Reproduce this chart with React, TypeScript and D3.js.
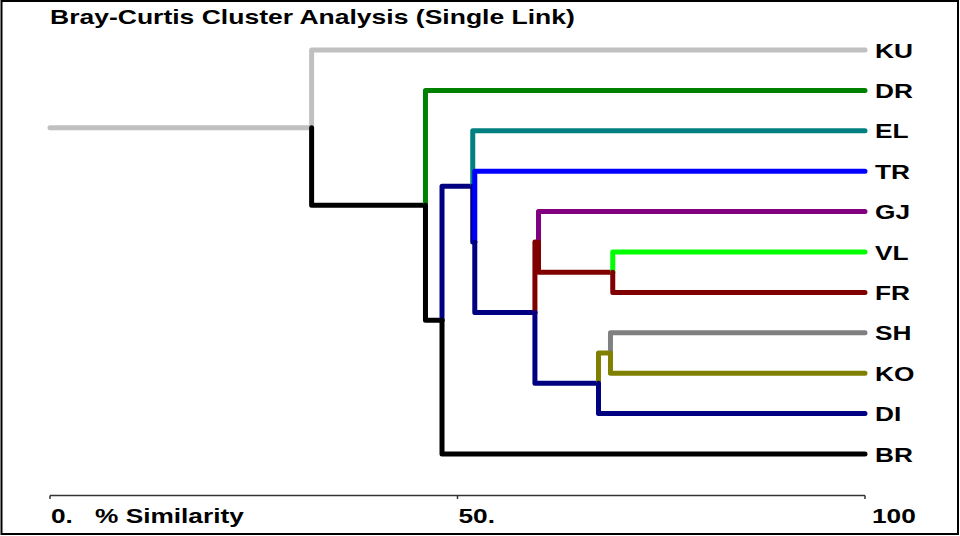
import React from "react";
import * as d3 from "d3";

// ---- data ----
const leafNames = ["KU", "DR", "EL", "TR", "GJ", "VL", "FR", "SH", "KO", "DI", "BR"];
const leafColors = [
  "#c0c0c0", "#008000", "#008080", "#0000ff", "#800080",
  "#00ff00", "#800000", "#808080", "#808000", "#000080", "#000000",
];
// merges: top child, bottom child, % similarity at which they join
const mergeIds = ["m0", "m1", "m2", "m3", "m4", "m5", "m6", "m7", "m8", "m9"];
const mergeTop = ["VL", "SH", "m1", "GJ", "m3", "TR", "EL", "m6", "DR", "KU"];
const mergeBottom = ["FR", "KO", "DI", "m0", "m2", "m4", "m5", "BR", "m7", "m8"];
const mergeSimilarity = [69.05, 68.77, 67.3, 59.94, 59.5, 52.12, 51.87, 48.1, 46.07, 32.1];
const rootColor = "#c0c0c0";
const axisTicks = [0, 50, 100];
const axisTickLabels = ["0.", "50.", "100"];
const axisTitle = "% Similarity";
const chartTitle = "Bray-Curtis Cluster Analysis (Single Link)";

type TNode = { name: string; sim: number; color: string; children?: TNode[] };

function buildTree(): TNode {
  const map = new Map<string, TNode>();
  leafNames.forEach((n, i) => map.set(n, { name: n, sim: 100, color: leafColors[i] }));
  let last: TNode = map.get(leafNames[0])!;
  mergeIds.forEach((id, i) => {
    const a = map.get(mergeTop[i])!;
    const b = map.get(mergeBottom[i])!;
    const node: TNode = { name: id, sim: mergeSimilarity[i], color: b.color, children: [a, b] };
    map.set(id, node);
    last = node;
  });
  return last;
}

const W = 960;
const H = 536;
const FONT = "'Liberation Sans', Arial, Helvetica, sans-serif";

export default function App() {
  const root = d3.hierarchy<TNode>(buildTree(), (d) => d.children);
  d3.cluster<TNode>().size([1, 1]).separation(() => 1)(root);

  const x = d3.scaleLinear().domain([0, 100]).range([50, 865]);
  const y = d3.scaleLinear().domain([0, 1]).range([29.8, 474.2]);

  const nodes = root.descendants();
  const paths: { d: string; color: string }[] = [];
  paths.push({
    d: `M${x(0)},${y(root.x!)}L${x(root.data.sim)},${y(root.x!)}`,
    color: rootColor,
  });
  nodes.forEach((n) => {
    if (!n.parent) return;
    const p = n.parent;
    const px = x(p.data.sim);
    const d = `M${px},${y(p.x!)}L${px},${y(n.x!)}L${x(n.data.sim)},${y(n.x!)}`;
    paths.push({ d, color: n.data.color });
  });

  const leaves = root.leaves();
  const axisY = 495.5;

  return (
    <svg
      width={W}
      height={H}
      style={{ position: "absolute", left: 0, top: 0, background: "#fff" }}
      fontFamily={FONT}
    >
      <rect x={0} y={0} width={W} height={H} fill="#fff" />
      <rect x={1.5} y={1} width={956.5} height={533} fill="none" stroke="#000" strokeWidth={2} />

      <text
        transform={`translate(50,24) scale(1.36,1)`}
        fontSize={19.5}
        fontWeight="bold"
        fill="#000"
      >
        {chartTitle}
      </text>

      <g fill="none" strokeWidth={5} strokeLinejoin="round" strokeLinecap="round">
        {paths.map((p, i) => (
          <path key={i} d={p.d} stroke={p.color} />
        ))}
      </g>

      {leaves.map((l) => (
        <text
          key={l.data.name}
          transform={`translate(875,${y(l.x!) + 7.5}) scale(1.25,1)`}
          fontSize={21}
          fontWeight="bold"
          fill="#000"
        >
          {l.data.name}
        </text>
      ))}

      <g>
        <line x1={x(0)} x2={x(100)} y1={axisY} y2={axisY} stroke="#333" strokeWidth={1.5} />
        {axisTicks.map((t) => (
          <line key={t} x1={x(t)} x2={x(t)} y1={axisY} y2={axisY + 3.5} stroke="#333" strokeWidth={1.5} />
        ))}
        {axisTicks.map((t, i) => (
          <text
            key={"l" + t}
            transform={`translate(${x(t) + (i === axisTicks.length - 1 ? 7 : 1)},523) scale(1.25,1)`}
            fontSize={21}
            fontWeight="bold"
            fill="#000"
          >
            {axisTickLabels[i]}
          </text>
        ))}
        <text
          transform={`translate(${x(0) + 45},523) scale(1.25,1)`}
          fontSize={21}
          fontWeight="bold"
          fill="#000"
        >
          {axisTitle}
        </text>
      </g>
    </svg>
  );
}
